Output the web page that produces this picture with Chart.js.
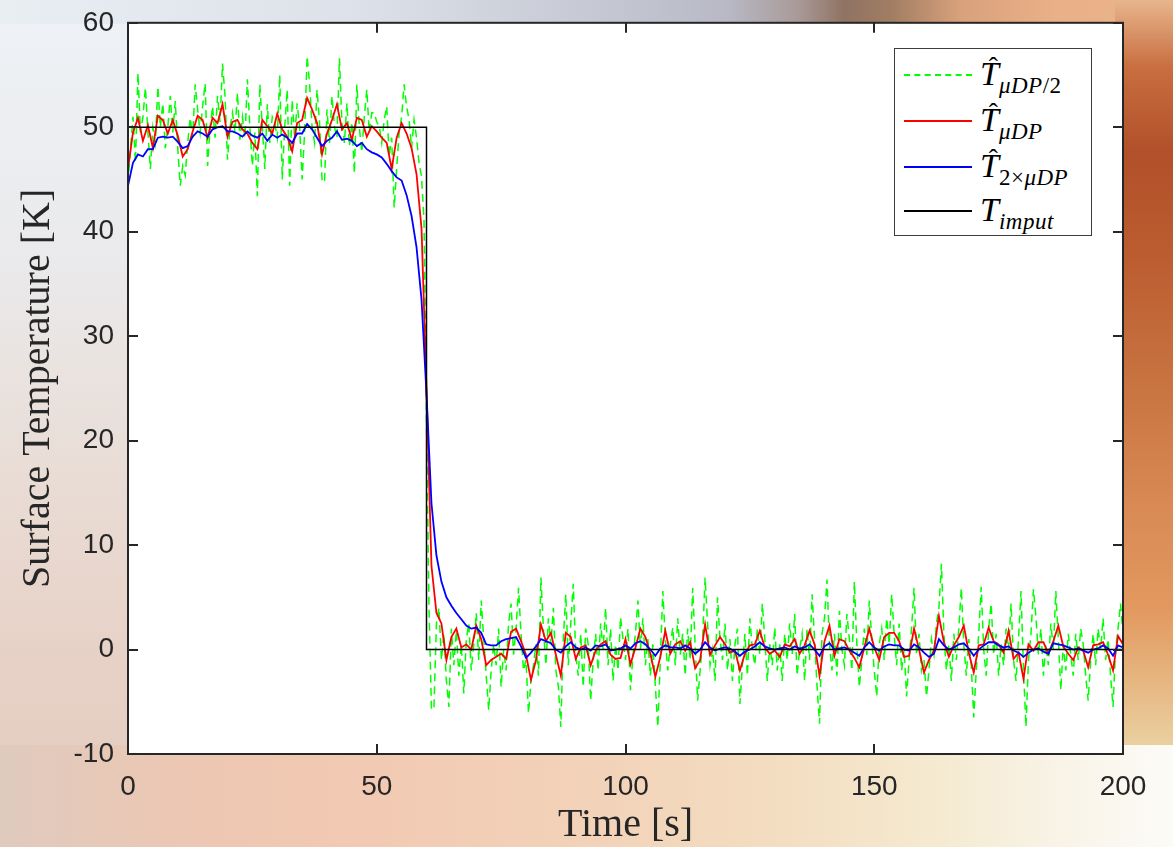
<!DOCTYPE html>
<html>
<head>
<meta charset="utf-8">
<title>Surface Temperature</title>
<script src="https://cdn.jsdelivr.net/npm/chart.js@4.4.1/dist/chart.umd.min.js"></script>
<style>
  body { margin: 0; }
  #wrap { position: relative; width: 1173px; height: 847px; overflow: hidden; background: #ead8cc; }
  .bg { position: absolute; }
  #bg-left { left: 0; top: 0; width: 140px; height: 847px;
    background: linear-gradient(to bottom, #eef2f6 0%, #eaeaec 30%, #e9ddd6 55%, #e7d0c5 80%, #e2cabe 100%); }
  #bg-top { left: 0; top: 0; width: 1173px; height: 24px;
    background: linear-gradient(to right, #e9eef3 0%, #dde2ea 30%, #c9ccd6 48%, #b8b9c5 62%, #a99a98 68%, #8f7363 72%, #a27d63 76%, #d9a27c 82%, #eab088 90%, #e9b489 100%); }
  #bg-right { left: 1115px; top: 0; width: 58px; height: 847px;
    background: linear-gradient(to bottom, #e8b58c 0%, #c86e40 8%, #b1502a 18%, #bb5c30 30%, #c87340 45%, #d98a55 60%, #e2995f 72%, #ead0a0 88%, #f6f0e2 95%, #fbfaf6 100%); }
  #bg-bottom { left: 0; top: 745px; width: 1173px; height: 102px;
    background: linear-gradient(to right, #dfcabe 0%, #ecc7b3 15%, #f2c9b2 30%, #f2d2b8 50%, #f3dcbf 65%, #f5ead0 80%, #f8f3e6 90%, #fcfbf7 100%); }
  #tempChart { position: absolute; left: 0; top: 0; }

  #legend { position: absolute; left: 894px; top: 48px; width: 198px; height: 188px;
    box-sizing: border-box; border: 1.5px solid #3c3c3c; background: #fff;
    font-family: "Liberation Serif", "DejaVu Serif", serif; color: #000; }
  .sample { position: absolute; left: 9px; width: 68px; height: 0; }
  .label { position: absolute; left: 85px; font-style: italic; font-size: 34px; line-height: 34px; white-space: nowrap; }
  .hat { position: relative; display: inline-block; }
  .hat::after { content: "\02C6"; position: absolute; left: 0.32em; top: -0.26em; font-style: normal; font-size: 0.8em; }
  .sub { font-size: 23px; position: relative; top: 8px; letter-spacing: 0.5px; }
  .up { font-style: normal; }
</style>
</head>
<body>
<div id="wrap">
  <div class="bg" id="bg-left"></div>
  <div class="bg" id="bg-top"></div>
  <div class="bg" id="bg-right"></div>
  <div class="bg" id="bg-bottom"></div>
  <canvas id="tempChart" width="1173" height="847"></canvas>
  <div id="legend"></div>
</div>
<script>
// sampling of the three estimates (seconds between points)
const halfMuStep = 0.5;
const lineStep = 1;

// estimate with mu_DP / 2
const tHalfMu = [
  44.5, 48, 51, 46.6, 55.2, 49.5, 51, 53.8, 49.5, 46, 50, 48.5, 53.9, 50, 52.3, 48, 50, 53, 49.5, 52.5,
  48, 44.4, 46.3, 45.4, 48.5, 50.9, 49, 54.1, 51.7, 49.5, 52, 54.2, 46.3, 50, 52, 49, 53, 50.5, 56.1, 53,
  46.9, 50, 51.4, 49.5, 53.3, 48.8, 51, 49, 54.6, 50, 46.3, 49.5, 43.4, 54.1, 50, 46, 52.2, 48.5, 51, 50.4,
  49, 55, 45, 50, 53.6, 44.4, 52.6, 49, 52.3, 50, 45, 49.5, 56.8, 54.2, 50, 48.5, 53.6, 50.5, 45, 44.7,
  51.7, 48.5, 53, 50, 49, 56.6, 50.4, 48.5, 52.3, 48.2, 50.5, 45.6, 54.1, 50, 47.6, 51, 53.6, 49.5, 51.4, 51.4,
  50.5, 50.1, 48.5, 50.7, 52, 47.2, 49, 42.3, 46, 49.5, 51, 54.1, 52, 50.7, 48, 50.7, 49, 46.6, 45.3, 41,
  22, 4, -5.8, -5.5, 2.5, 4, -1, 1.5, -3, -5.5, 2, -1.5, 1.8, -2.5, 0.5, -4.2, 1, 2.5, -2, 0.5,
  3.5, -1, 4.7, 1, -2.5, -5.8, -2, 0.5, -1.5, 2, -3.6, 0, -2, 2.5, 4.4, -0.5, 2, 5.9, 1.5, -2,
  -1, -6.1, -3, -1.5, 0.5, -2.5, 6.9, 2, -1.5, 3, 0.5, 4, -2, -3.5, -7.4, 1, 5.3, -1.5, 2.5, 6.3,
  -0.5, -2.5, 1.5, -3.6, 2, 0.5, -4.9, -1, 1.5, -2, 2.5, 0, 4, -1.5, 2, -3, 0.5, -2, 3.1, 1,
  -1, 2, -3.9, -0.5, 1.5, 4.7, 0, 3, -1.5, 1, -2.5, 0.5, -3.5, -7.4, -1, 5.6, 1, -2, 0.5, 2.1,
  -1.5, 3, -0.5, 1.5, -2.5, 2, -1, 5.9, 0.5, -4.9, -2, 1, 6.9, 2.5, -1.5, 0, -3, 5, 1, -1,
  2.5, -2, 1, -3, 0.5, 2, -5.2, -1.5, 1.5, -2.5, 3, 0, -1.5, 2, -0.5, 4.4, 1, -3, 0.5, -1.5,
  2.1, -2, 0.5, -3, 1.5, -1, 2.5, -0.5, 3.4, -2.5, 0, 1.5, -3, 2, -1, 5.3, 1, -3.5, -7.1, 1.5,
  3, 6.7, 0.5, -2, 1.5, -2.5, 3.7, 0, -1.5, 3.4, 1, -2, 6.5, 0.5, -3.6, -1, 2, -0.5, 4.7, 1,
  -2, -4.5, 0.5, 2, -1, 3, 0.5, 5.3, 1.5, -1.5, 2.5, -2, 0, -4.5, -1, 2, 5.9, -0.5, 1.5, -2,
  -1, -4.5, -2, 1, -0.5, 2.5, 4, 8.2, 1.5, -2, 0.5, -3, 1.5, -1, 2, 5.9, 0.5, -2.5, 1, -1.5,
  -6.5, -2, 1.5, 6, 0, -2.5, 2, 4.4, -0.5, 1.5, -2.5, 0.5, -1.5, 2, 0, 4.4, -1, -3, 1, 5.6,
  -2, -7.4, -1, 1.5, 5.8, 3.1, -0.5, 2, -2.5, 0.5, -1.5, 2.5, 0, 5.6, 1, -3.9, 0.5, -2, 1.5, -0.5,
  -2.5, 1.5, -1, 2, 0.5, -2.5, -4.9, -1, 1.5, -1.5, 2, 0, 3, -1, 1, -2.5, -5.5, 0, 2, 4.4,
  1.5
];

// estimate with mu_DP
const tMu = [
  46, 49.5, 50.9, 48.7, 50.2, 48, 51.1, 50.7, 49.4, 50.7,
  49.2, 47.2, 47.9, 49.6, 51.1, 50.7, 49, 50.9, 50.4, 52.2,
  49.1, 50.5, 50.7, 49.8, 49.4, 48.5, 47.9, 50.7, 50.1, 49.4,
  51.3, 49.8, 49.1, 47.7, 50.4, 50.7, 52.8, 51.7, 50.4, 47.4,
  49.4, 50.7, 52.2, 49.8, 50.4, 48.8, 50.9, 50.7, 49.1, 50.1,
  49.6, 49, 48.5, 46, 49, 50.4, 49.4, 48, 45.5, 40.3,
  25, 8, 3.5, 2.5, -1, 1.2, 2, 0.2, 0.5, 0,
  2.3, 1, -1.5, -1, -0.7, -0.4, -0.9, 1.7, 2, 0.8,
  -0.5, -2.9, -1, 2.4, 0.8, 1.6, -0.5, -2.5, 1.6, 1.2,
  -0.9, 0.2, 0.4, -1.5, -0.1, 0.5, 0.8, -0.5, -0.9, -0.8,
  1, -1.4, 0.2, 2, 1.2, -0.4, -2.6, -0.7, 1.8, -0.4,
  0.5, 0.8, -0.1, 0.7, -1.8, -1, 2.4, -0.5, 0.4, 1.2,
  0.5, -0.3, -0.1, -2, -0.4, 0.4, 0.5, 1.8, 0.2, -0.4,
  -0.1, -0.7, 0.5, 0.3, 1, -0.4, 0.4, 1.8, 0.5, -2.5,
  0.8, 2.3, -0.6, 1, 0.8, -0.1, -0.8, -1.7, 0.2, 2,
  0.2, -1, 1.2, 1.6, 1.6, 0.8, -0.7, -0.6, 2, 0,
  -2.2, -1, -0.1, 3.2, 0.7, -0.7, 0.4, 1.2, 2.3, -0.3,
  -2.2, 0.4, 0.5, 2.1, 0.8, 0.5, -0.3, 1.8, -0.9, -0.3,
  -2.8, 0.5, -0.1, 0.7, 0.7, -0.4, 0.8, 2.3, 0.3, -0.4,
  -1, 0.2, -0.1, -1.7, 0.4, 0.5, 0.7, -0.5, -2, 1.3,
  0.5
];

// estimate with 2 x mu_DP
const tTwoMu = [
  44.4, 46.6, 47.4, 47.2, 47.9, 47.9, 49, 49.1, 49, 49.1,
  48.6, 48, 48.2, 49.1, 49.6, 49.4, 49.1, 49.8, 50, 50.1,
  49.6, 49.6, 49.4, 49.1, 49.6, 49.2, 49, 49.4, 48.7, 49.3,
  49, 49.3, 49, 48.5, 49.4, 49.4, 50.3, 49.8, 49, 48.2,
  48.7, 49, 49.6, 48.8, 48.9, 48.7, 48.2, 48.5, 47.9, 47.6,
  47.4, 47.1, 46.5, 45.8, 45.2, 44.9, 43.5, 41.5, 38.5, 33.5,
  24.5, 14, 9, 6.5, 5, 4.2, 3.5, 2.9, 2.3, 2,
  2.1, 1.6, 0.5, 0.4, 0.4, 0.8, 1, 1.1, 1.2, 0.3,
  -0.8, -0.3, 0.3, 1, 0.8, 0.6, 0, -0.3, 0.3, 0.7,
  0.2, 0, 0.2, -0.1, 0.4, 0.3, 0.5, -0.1, 0, 0.1,
  0.4, 0.1, 0.6, 0.8, 0.5, 0, -0.6, 0.1, 0.4, 0.2,
  0.2, 0.1, 0.4, 0.1, -0.4, 0, 0.7, 0.2, -0.1, 0.1,
  0.2, 0.1, -0.2, -0.6, -0.2, 0, 0.3, 0.7, 0.3, 0.1,
  0, 0.1, 0.2, 0, 0.3, 0.1, 0.2, 0.5, 0, -0.6,
  0.3, 0.6, 0, 0.1, 0.2, 0, -0.3, -0.6, 0.2, 0.7,
  0.2, -0.1, 0.3, 0.5, 0.4, 0.4, 0, -0.1, 0.5, 0.2,
  -0.3, -0.7, -0.4, 1, 0.4, 0, 0.2, 0.5, 0.6, 0.1,
  -0.6, 0, 0.4, 0.7, 0.7, 0.4, 0.2, 0.3, -0.1, -0.3,
  -0.7, -0.3, 0, 0.1, -0.2, -0.4, 0.6, 0.5, 0.4, 0.2,
  0, 0.1, -0.1, -0.3, 0, 0.1, 0.4, 0.1, -0.6, 0.4,
  0.2
];

// imposed surface temperature (step at 60 s)
const inputTime = [0, 60, 60, 200];
const inputTemp = [50, 50, 0, 0];

const xTicks = [0, 50, 100, 150, 200];
const yTicks = [-10, 0, 10, 20, 30, 40, 50, 60];

const series = [
  { key: 'halfMu', color: '#00ff00', dash: [8, 5], width: 1.5 },
  { key: 'mu', color: '#ff0000', dash: [], width: 1.8 },
  { key: 'twoMu', color: '#0000ff', dash: [], width: 1.8 },
  { key: 'input', color: '#000000', dash: [], width: 1.5 }
];

function toPoints(values, step) {
  return values.map((v, i) => ({ x: i * step, y: v }));
}

// white plot box, inward ticks on all four sides
const framePlugin = {
  id: 'frame',
  beforeDraw(chart) {
    const a = chart.chartArea;
    const ctx = chart.ctx;
    ctx.save();
    ctx.fillStyle = '#ffffff';
    ctx.fillRect(a.left, a.top, a.right - a.left, a.bottom - a.top);
    ctx.restore();
  },
  afterDatasetsDraw(chart) {
    const a = chart.chartArea;
    const ctx = chart.ctx;
    const x = chart.scales.x, y = chart.scales.y;
    ctx.save();
    ctx.strokeStyle = '#262626';
    ctx.lineWidth = 2;
    ctx.beginPath();
    xTicks.forEach(v => {
      const px = Math.round(x.getPixelForValue(v));
      ctx.moveTo(px, a.bottom); ctx.lineTo(px, a.bottom - 10);
      ctx.moveTo(px, a.top); ctx.lineTo(px, a.top + 10);
    });
    yTicks.forEach(v => {
      const py = Math.round(y.getPixelForValue(v));
      ctx.moveTo(a.left, py); ctx.lineTo(a.left + 10, py);
      ctx.moveTo(a.right, py); ctx.lineTo(a.right - 10, py);
    });
    ctx.stroke();
    ctx.strokeRect(a.left, a.top, a.right - a.left, a.bottom - a.top);
    ctx.restore();
  }
};

function buildLegend() {
  const rows = [
    '<span class="hat">T</span><span class="sub">&mu;DP<span class="up">/2</span></span>',
    '<span class="hat">T</span><span class="sub">&mu;DP</span>',
    '<span class="hat">T</span><span class="sub"><span class="up">2&times;</span>&mu;DP</span>',
    'T<span class="sub">imput</span>'
  ];
  const lineY = [26, 72, 118, 162];
  let html = '';
  rows.forEach((txt, i) => {
    const s = series[i];
    const style = s.dash.length
      ? `border-top: 2px dashed ${s.color};`
      : `border-top: 2px solid ${s.color};`;
    html += `<span class="sample" style="top:${lineY[i] - 1}px; ${style}"></span>`;
    html += `<div class="label" style="top:${lineY[i] - 18}px">${txt}</div>`;
  });
  document.getElementById('legend').innerHTML = html;
}

const datasets = [
  { data: toPoints(tHalfMu, halfMuStep) },
  { data: toPoints(tMu, lineStep) },
  { data: toPoints(tTwoMu, lineStep) },
  { data: inputTime.map((t, i) => ({ x: t, y: inputTemp[i] })) }
].map((d, i) => ({
  label: series[i].key,
  data: d.data,
  borderColor: series[i].color,
  borderWidth: series[i].width,
  borderDash: series[i].dash,
  pointRadius: 0,
  tension: 0,
  fill: false,
  order: 4 - i
}));

const ctx = document.getElementById('tempChart').getContext('2d');
new Chart(ctx, {
  type: 'line',
  data: { datasets },
  plugins: [framePlugin],
  options: {
    responsive: false,
    animation: false,
    devicePixelRatio: 1,
    layout: { padding: { left: 0, top: 10, right: 50, bottom: 0 } },
    plugins: { legend: { display: false }, tooltip: { enabled: false } },
    scales: {
      x: {
        type: 'linear',
        min: 0, max: 200,
        afterFit: s => { s.height = 93; },
        afterBuildTicks: s => { s.ticks = xTicks.map(v => ({ value: v })); },
        grid: { display: false },
        border: { display: false },
        ticks: {
          padding: 8, maxRotation: 0,
          color: '#262626',
          font: { family: '"Liberation Sans", Arial, sans-serif', size: 28 }
        },
        title: {
          display: true, text: 'Time [s]', color: '#262626',
          padding: { top: 0, bottom: 2 },
          font: { family: '"Liberation Serif", "Times New Roman", serif', size: 40, lineHeight: 1 }
        }
      },
      y: {
        min: -10, max: 60,
        afterFit: s => { s.width = 128; },
        afterBuildTicks: s => { s.ticks = yTicks.map(v => ({ value: v })); },
        grid: { display: false },
        border: { display: false },
        ticks: {
          padding: 6,
          color: '#262626',
          font: { family: '"Liberation Sans", Arial, sans-serif', size: 28 }
        },
        title: {
          display: true, text: 'Surface Temperature [K]', color: '#262626',
          padding: { top: 18, bottom: 0 },
          font: { family: '"Liberation Serif", "Times New Roman", serif', size: 40, lineHeight: 1 }
        }
      }
    }
  }
});

buildLegend();
</script>
</body>
</html>
